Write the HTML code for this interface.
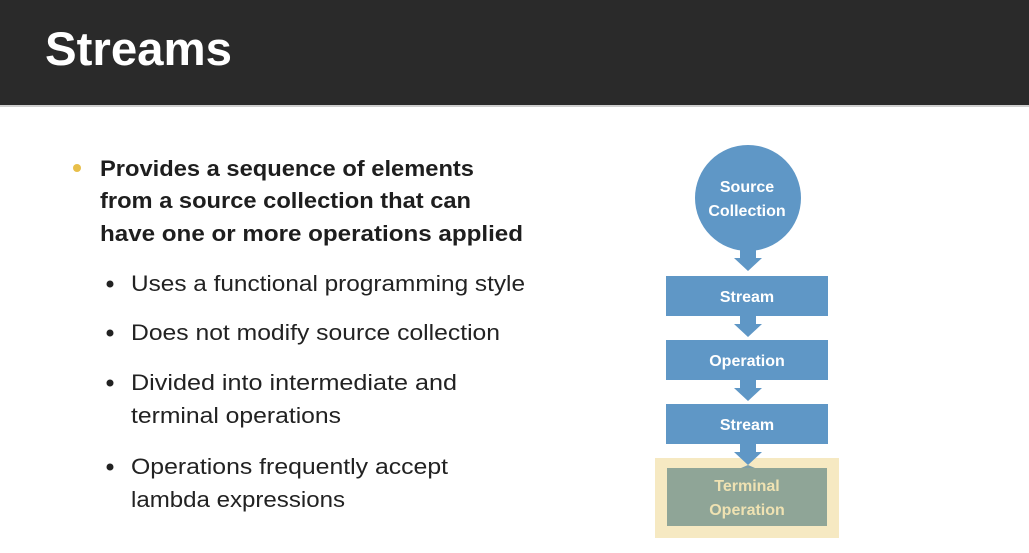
<!DOCTYPE html>
<html><head><style>
html,body{margin:0;padding:0;background:#fff;}
svg{display:block;}
</style></head><body>
<svg width="1029" height="553" xmlns="http://www.w3.org/2000/svg" font-family="Liberation Sans, sans-serif">
<rect x="0" y="0" width="1029" height="553" fill="#ffffff"/>
<rect x="0" y="0" width="1029" height="105" fill="#2a2a2a"/>
<rect x="0" y="105" width="1029" height="2" fill="#cfcfcf"/>
<text x="45" y="65" font-size="47" font-weight="bold" fill="#ffffff" textLength="187" lengthAdjust="spacingAndGlyphs">Streams</text>

<circle cx="77" cy="168" r="4" fill="#e8bf4a"/>
<g font-size="22" font-weight="bold" fill="#1e1e1e">
<text x="100" y="176" textLength="374" lengthAdjust="spacingAndGlyphs">Provides a sequence of elements</text>
<text x="100" y="208" textLength="371" lengthAdjust="spacingAndGlyphs">from a source collection that can</text>
<text x="100" y="241" textLength="423" lengthAdjust="spacingAndGlyphs">have one or more operations applied</text>
</g>
<g fill="#222">
<circle cx="110" cy="284" r="3.5"/>
<circle cx="110" cy="333" r="3.5"/>
<circle cx="110" cy="383" r="3.5"/>
<circle cx="110" cy="467" r="3.5"/>
</g>
<g font-size="22" fill="#222">
<text x="131" y="291" textLength="394" lengthAdjust="spacingAndGlyphs">Uses a functional programming style</text>
<text x="131" y="340" textLength="369" lengthAdjust="spacingAndGlyphs">Does not modify source collection</text>
<text x="131" y="390" textLength="326" lengthAdjust="spacingAndGlyphs">Divided into intermediate and</text>
<text x="131" y="423" textLength="210" lengthAdjust="spacingAndGlyphs">terminal operations</text>
<text x="131" y="474" textLength="317" lengthAdjust="spacingAndGlyphs">Operations frequently accept</text>
<text x="131" y="507" textLength="214" lengthAdjust="spacingAndGlyphs">lambda expressions</text>
</g>

<g fill="#5f97c6">
<circle cx="748" cy="198" r="53"/>
<polygon points="740,248 756,248 756,258 762,258 748,271 734,258 740,258"/>
<rect x="666" y="276" width="162" height="40"/>
<polygon points="740,316 756,316 756,324 762,324 748,337 734,324 740,324"/>
<rect x="666" y="340" width="162" height="40"/>
<polygon points="740,380 756,380 756,388 762,388 748,401 734,388 740,388"/>
<rect x="666" y="404" width="162" height="40"/>
</g>
<rect x="655" y="458" width="184" height="80" fill="#f6e9c2"/>
<polygon points="740,444 756,444 756,452 762,452 748,465 734,452 740,452" fill="#5f97c6"/>
<rect x="667" y="468" width="160" height="58" fill="#8fa597"/>
<polygon points="741,468 755,468 748,465" fill="#7f9fa7"/>

<g font-size="16" font-weight="bold" fill="#ffffff" text-anchor="middle">
<text x="747" y="192">Source</text>
<text x="747" y="216">Collection</text>
<text x="747" y="302">Stream</text>
<text x="747" y="366">Operation</text>
<text x="747" y="430">Stream</text>
</g>
<g font-size="16" font-weight="bold" fill="#efe2b2" text-anchor="middle">
<text x="747" y="491">Terminal</text>
<text x="747" y="515">Operation</text>
</g>
</svg>
</body></html>
